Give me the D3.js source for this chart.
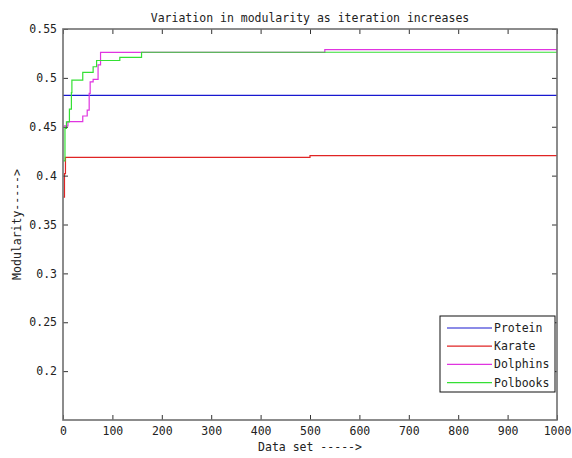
<!DOCTYPE html>
<html>
<head>
<meta charset="utf-8">
<script src="https://cdn.jsdelivr.net/npm/d3@7"></script>
<style>
  body { margin: 0; background: #fff; }
  text { font-family: "DejaVu Sans Mono", monospace; font-size: 11.5px; fill: #222; }
</style>
</head>
<body>
<script>
// data (step points: value holds until next x)
let seriesNames = ["Protein", "Karate", "Dolphins", "Polbooks"];
let seriesColors = ["#1818d0", "#e02424", "#e034e0", "#34e034"];

let proteinX = [0, 1000];
let proteinY = [0.482, 0.482];

let karateX = [1, 3, 5, 500, 1000];
let karateY = [0.378, 0.402, 0.4187, 0.4205, 0.4205];

let dolphinsX = [2, 10, 40, 49, 53, 55, 61, 71, 76, 530, 1000];
let dolphinsY = [0.4508, 0.4552, 0.461, 0.4671, 0.4842, 0.496, 0.4985, 0.5132, 0.526, 0.529, 0.529];

let polbooksX = [1, 4, 7, 13, 17, 18, 40, 61, 68, 115, 159, 1000];
let polbooksY = [0.415, 0.4484, 0.455, 0.468, 0.485, 0.4978, 0.5057, 0.5114, 0.5178, 0.521, 0.5262, 0.5262];

let xTicks = [0, 100, 200, 300, 400, 500, 600, 700, 800, 900, 1000];
let yTicks = [0.2, 0.25, 0.3, 0.35, 0.4, 0.45, 0.5, 0.55];

let width = 572, height = 458;
let pLeft = 63, pRight = 557, pTop = 29, pBottom = 420;

let svg = d3.select('body').append('svg')
    .attr('width', width)
    .attr('height', height);

let x = d3.scaleLinear().domain([0, 1000]).range([pLeft, pRight]);
let y = d3.scaleLinear().domain([0.15, 0.55]).range([pBottom, pTop]);

// data lines
let series = [
  [proteinX, proteinY],
  [karateX, karateY],
  [dolphinsX, dolphinsY],
  [polbooksX, polbooksY]
];
let line = d3.line()
    .x(d => x(d[0]))
    .y(d => y(d[1]))
    .curve(d3.curveStepAfter);

series.forEach(function(s, i) {
  let pts = s[0].map((v, j) => [v, s[1][j]]);
  svg.append('path')
      .attr('d', line(pts))
      .attr('fill', 'none')
      .attr('stroke', seriesColors[i])
      .attr('stroke-width', 1.2);
});

// axes, matlab style ticks pointing inward on all sides
let fmt = d => String(+d.toFixed(2));
let axB = svg.append('g').attr('transform', `translate(0,${pBottom})`)
    .call(d3.axisBottom(x).tickValues(xTicks).tickSize(-5).tickPadding(7).tickFormat(d3.format('d')));
let axT = svg.append('g').attr('transform', `translate(0,${pTop})`)
    .call(d3.axisTop(x).tickValues(xTicks).tickSize(-5).tickFormat(''));
let axL = svg.append('g').attr('transform', `translate(${pLeft},0)`)
    .call(d3.axisLeft(y).tickValues(yTicks).tickSize(-5).tickPadding(6).tickFormat(fmt));
let axR = svg.append('g').attr('transform', `translate(${pRight},0)`)
    .call(d3.axisRight(y).tickValues(yTicks).tickSize(-5).tickFormat(''));
[axB, axT, axL, axR].forEach(function(g) {
  g.select('.domain').remove();
  g.selectAll('line').attr('stroke', '#333');
  g.selectAll('text').style('font-family', '"DejaVu Sans Mono", monospace')
      .style('font-size', '11.5px').attr('fill', '#222');
});

// frame
svg.append('rect')
    .attr('x', pLeft).attr('y', pTop)
    .attr('width', pRight - pLeft).attr('height', pBottom - pTop)
    .attr('fill', 'none')
    .attr('stroke', '#707070')
    .attr('stroke-width', 1.6);

// title and axis labels
svg.append('text')
    .attr('x', (pLeft + pRight) / 2).attr('y', 22)
    .attr('text-anchor', 'middle')
    .text('Variation in modularity as iteration increases');
svg.append('text')
    .attr('x', (pLeft + pRight) / 2).attr('y', 451)
    .attr('text-anchor', 'middle')
    .text('Data set ----->');
svg.append('text')
    .attr('transform', `translate(21,${(pTop + pBottom) / 2}) rotate(-90)`)
    .attr('text-anchor', 'middle')
    .text('Modularity----->');

// legend
let legend = svg.append('g');
legend.append('rect')
    .attr('x', 440).attr('y', 316)
    .attr('width', 115).attr('height', 76)
    .attr('fill', '#fff')
    .attr('stroke', '#111')
    .attr('stroke-width', 1);
seriesNames.forEach(function(name, i) {
  let ly = 328 + i * 18.2;
  legend.append('line')
      .attr('x1', 447).attr('x2', 492)
      .attr('y1', ly).attr('y2', ly)
      .attr('stroke', seriesColors[i])
      .attr('stroke-width', 1.2);
  legend.append('text')
      .attr('x', 494).attr('y', ly)
      .attr('dy', '0.35em')
      .text(name);
});
</script>
</body>
</html>
